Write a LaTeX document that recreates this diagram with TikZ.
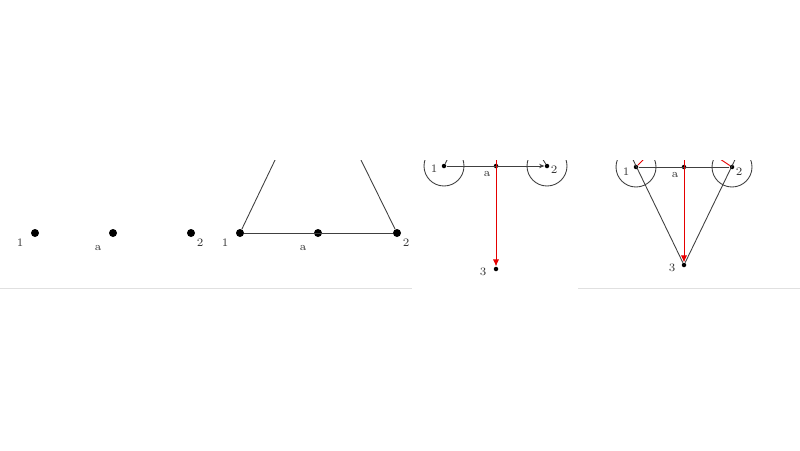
\documentclass[tikz,border=0pt]{standalone}
\usetikzlibrary{arrows.meta}
\tikzset{
  vtx/.style={circle, fill=black, inner sep=0pt, minimum size=0.16cm},
  smallvtx/.style={circle, fill=black, inner sep=0pt, minimum size=0.09cm},
  lbl/.style={inner sep=0pt, text=black!80, font=\fontsize{6.5}{7}\selectfont},
  edge/.style={black!75, line width=0.5pt},
  hop/.style={red!90!black, line width=0.5pt},
}
\begin{document}
\begin{tikzpicture}[x=0.02cm, y=-0.02cm]
  \useasboundingbox (0,0) rectangle (800,450);
  \draw [black!12] (0,288) -- (412,288);
  \draw [black!12] (578,288) -- (800,288);
  \begin{scope}
    \clip (0,160) rectangle (800,288);
    % first: three points
    \node[vtx] (a1) at (35,233) {};
    \node[vtx] (aa) at (113,233) {};
    \node[vtx] (a2) at (191,233) {};
    \node[lbl] (la1) at (20,243) {1};
    \node[lbl] (laa) at (98,248) {a};
    \node[lbl] (la2) at (200,243) {2};
    % second: joined
    \node[vtx] (b1) at (240,233) {};
    \node[vtx] (ba) at (318,233) {};
    \node[vtx] (b2) at (397,233) {};
    \node[lbl] (lb1) at (225,243) {1};
    \node[lbl] (lba) at (303,248) {a};
    \node[lbl] (lb2) at (406,243) {2};
    \coordinate (tb1) at (276,158);
    \coordinate (tb2) at (360,158);
    \draw [edge] (b1) -- (b2);
    \draw [edge] (b1) -- (tb1);
    \draw [edge] (b2) -- (tb2);
    % third: loops and drop to 3
    \node[smallvtx] (c1) at (444,166) {};
    \node[smallvtx] (ca) at (496,166) {};
    \node[smallvtx] (c2) at (547,166) {};
    \node[smallvtx] (c3) at (496,269) {};
    \node[lbl] (lc1) at (434,169) {1};
    \node[lbl] (lca) at (487,174) {a};
    \node[lbl] (lc2) at (554,170) {2};
    \node[lbl] (lc3) at (483,272) {3};
    \coordinate (tc1) at (448,158);
    \coordinate (tc2) at (542,158);
    \coordinate (tca) at (496,158);
    \draw [edge] (c1.center) circle (20);
    \draw [edge] (c2.center) circle (20);
    \draw [edge] (tc1) -- (c1);
    \draw [edge] (tc2) -- (c2);
    \draw [edge, -{Stealth[length=3pt, width=2.5pt]}] (c1) -- (c2);
    \draw [hop, -{Latex[length=4pt, width=3.5pt]}] (tca) -- (c3);
    % fourth: triangle
    \node[smallvtx] (d1) at (636,167) {};
    \node[smallvtx] (da) at (684,167) {};
    \node[smallvtx] (d2) at (732,167) {};
    \node[smallvtx] (d3) at (684,265) {};
    \node[lbl] (ld1) at (626,172) {1};
    \node[lbl] (lda) at (675,175) {a};
    \node[lbl] (ld2) at (739,172) {2};
    \node[lbl] (ld3) at (672,268) {3};
    \coordinate (td1) at (632.2,158);
    \coordinate (td2) at (735.8,158);
    \coordinate (tda) at (684,158);
    \coordinate (rd1) at (644,159);
    \coordinate (rd2) at (720,159);
    \draw [edge] (d1.center) circle (20);
    \draw [edge] (d2.center) circle (20);
    \draw [edge] (d1) -- (d2);
    \draw [edge] (d3) -- (td1);
    \draw [edge] (d3) -- (td2);
    \draw [hop] (d1) -- (rd1);
    \draw [hop] (d2) -- (rd2);
    \draw [hop, -{Latex[length=4pt, width=3.5pt]}] (tda) -- (d3);
  \end{scope}
\end{tikzpicture}
\end{document}
